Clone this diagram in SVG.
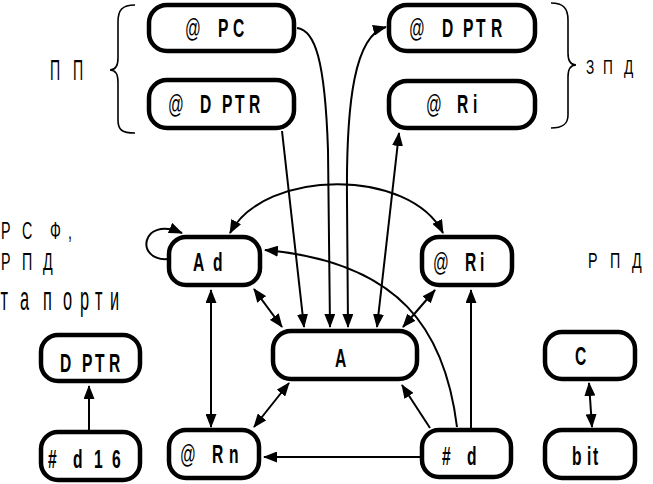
<svg xmlns="http://www.w3.org/2000/svg" width="653" height="484" viewBox="0 0 653 484">
<style>
.n rect{fill:#fff;stroke:#000;stroke-width:4.5}
.t{font-family:"Liberation Sans",Arial,sans-serif;font-weight:bold;font-size:26px;fill:#000}
.at{font-weight:normal}
.l{font-family:"Liberation Sans",Arial,sans-serif;font-weight:normal;fill:#000}
.c path,.c line{fill:none;stroke:#000;stroke-width:2}
.br{fill:none;stroke:#000;stroke-width:1.6}
</style>
<defs>
<marker id="ah" viewBox="0 0 14 11" refX="13" refY="5.5" markerWidth="14" markerHeight="11" markerUnits="userSpaceOnUse" orient="auto"><path d="M0,0 L14,5.5 L0,11 z" fill="#000"/></marker>
<marker id="ahs" viewBox="0 0 14 11" refX="13" refY="5.5" markerWidth="14" markerHeight="11" markerUnits="userSpaceOnUse" orient="auto-start-reverse"><path d="M0,0 L14,5.5 L0,11 z" fill="#000"/></marker>
</defs>

<g id="labels">
<path class="br" d="M135,5 C122,5 118,10 118,22 L118,58 C118,66 115,70 110,70 C115,70 118,74 118,82 L118,120 C118,130 122,133 135,133"/>
<path class="br" d="M551,3 C563,3 568,8 568,20 L568,53 C568,61 571,65 576,65 C571,65 568,69 568,77 L568,115 C568,124 563,128 551,128"/>
<text class="l" font-size="30" transform="scale(0.47,1)" x="106.4 130 155.3" y="80">П П</text>
<text class="l" font-size="21" transform="scale(0.65,1)" x="901.5 920 927.7 945 960" y="74">З П Д</text>
<text class="l" font-size="22" transform="scale(0.65,1)" x="904.6 925 938.5 960 972.3" y="268">Р П Д</text>
<text class="l" font-size="23" transform="scale(0.62,1)" x="1.6 20 35.5 60 80.6 100 109.7" y="239">Р С Ф ,</text>
<text class="l" font-size="23" transform="scale(0.62,1)" x="1.6 20 35.5 55 69.4" y="270">Р П Д</text>
<text class="l" font-size="34" transform="scale(0.48,1)" x="1 41.7 68.8 89.6 131.3 166.7 197.9 229.2" y="310">та порти</text>
</g>

<g id="connectors" class="c">
<path d="M297,28 C315,30 325,60 328,150 L330,327" marker-end="url(#ah)"/>
<line x1="282" y1="131" x2="304" y2="327" marker-end="url(#ah)"/>
<path d="M348,327 L347,200 C346,100 355,35 386,27" marker-start="url(#ahs)" marker-end="url(#ah)"/>
<line x1="377" y1="327" x2="399" y2="133" marker-start="url(#ahs)" marker-end="url(#ah)"/>
<path d="M230,233 C265,168 410,168 443,233" marker-start="url(#ahs)" marker-end="url(#ah)"/>
<path d="M457,427 C445,330 400,262 265,250" marker-end="url(#ah)"/>
<path d="M168,259 C135,262 140,215 182,233" marker-end="url(#ah)"/>
<line x1="254" y1="289" x2="282" y2="327" marker-start="url(#ahs)" marker-end="url(#ah)"/>
<line x1="435" y1="290" x2="403" y2="327" marker-start="url(#ahs)" marker-end="url(#ah)"/>
<line x1="211" y1="290" x2="211" y2="427" marker-start="url(#ahs)" marker-end="url(#ah)"/>
<line x1="289" y1="383" x2="254" y2="427" marker-start="url(#ahs)" marker-end="url(#ah)"/>
<line x1="420" y1="457" x2="264" y2="457" marker-end="url(#ah)"/>
<line x1="430" y1="428" x2="402" y2="385" marker-end="url(#ah)"/>
<line x1="471" y1="429" x2="471" y2="290" marker-end="url(#ah)"/>
<line x1="89" y1="431" x2="89" y2="386" marker-end="url(#ah)"/>
<line x1="589" y1="383" x2="592" y2="427" marker-start="url(#ahs)" marker-end="url(#ah)"/>
</g>

<g id="n-atpc" class="n"><rect x="149" y="5" width="145" height="46" rx="18"/>
<text class="t" transform="scale(0.6,1)" x="308.3 335.8 363.3 388.3" y="37"><tspan class="at">@</tspan> PC</text></g>
<g id="n-atdptr-l" class="n"><rect x="149" y="80" width="145" height="48" rx="18"/>
<text class="t" transform="scale(0.6,1)" x="280 307.5 333.3 352.5 370 391.7 415" y="113"><tspan class="at">@</tspan> D PTR</text></g>
<g id="n-atdptr-r" class="n"><rect x="389" y="5" width="146" height="46" rx="18"/>
<text class="t" transform="scale(0.6,1)" x="681.7 709.2 736.7 755.8 771.7 793.3 818.3" y="37"><tspan class="at">@</tspan> D PTR</text></g>
<g id="n-atri-t" class="n"><rect x="389" y="81" width="146" height="47" rx="18"/>
<text class="t" transform="scale(0.6,1)" x="710 737.5 761.7 788.3" y="113"><tspan class="at">@</tspan> Ri</text></g>
<g id="n-ad" class="n"><rect x="169" y="237" width="91" height="48" rx="17"/>
<text class="t" transform="scale(0.6,1)" x="321.7 340 355" y="271">A d</text></g>
<g id="n-atri-m" class="n"><rect x="422" y="237" width="90" height="48" rx="17"/>
<text class="t" transform="scale(0.6,1)" x="721.7 749.2 775 800" y="271"><tspan class="at">@</tspan> Ri</text></g>
<g id="n-a" class="n"><rect x="273" y="331" width="144" height="48" rx="18"/>
<text class="t" transform="scale(0.6,1)" x="558.3" y="367">A</text></g>
<g id="n-dptr" class="n"><rect x="41" y="335" width="99" height="46" rx="17"/>
<text class="t" transform="scale(0.6,1)" x="100 119.2 136.7 158.3 181.7" y="372">D PTR</text></g>
<g id="n-d16" class="n"><rect x="41" y="432" width="99" height="48" rx="17"/>
<text class="t" transform="scale(0.6,1)" x="80 98.3 121.7 138.3 156.7 171.7 186.7" y="468"># d 1 6</text></g>
<g id="n-atrn" class="n"><rect x="169" y="430" width="90" height="48" rx="17"/>
<text class="t" transform="scale(0.6,1)" x="300 327.5 353.3 381.7" y="463"><tspan class="at">@</tspan> Rn</text></g>
<g id="n-d" class="n"><rect x="422" y="430" width="89" height="47" rx="17"/>
<text class="t" transform="scale(0.6,1)" x="736.7 751.7 778.3" y="465"># d</text></g>
<g id="n-c" class="n"><rect x="545" y="332" width="90" height="47" rx="17"/>
<text class="t" transform="scale(0.6,1)" x="958.3" y="365">C</text></g>
<g id="n-bit" class="n"><rect x="545" y="430" width="90" height="48" rx="17"/>
<text class="t" transform="scale(0.6,1)" x="953.3 970 978.3 988.3" y="465">b it</text></g>
</svg>
